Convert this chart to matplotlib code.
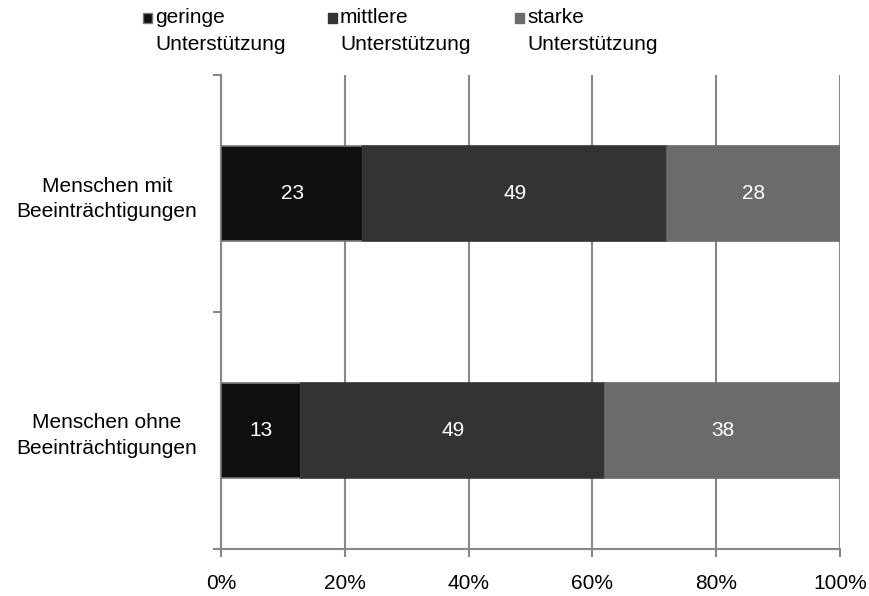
import numpy as np
import matplotlib.pyplot as plt
from matplotlib.patches import Rectangle

plt.rcParams['font.family'] = ['Liberation Sans', 'DejaVu Sans']

groups = ['Menschen ohne\nBeeinträchtigungen', 'Menschen mit\nBeeinträchtigungen']
series = ['geringe\nUnterstützung', 'mittlere\nUnterstützung', 'starke\nUnterstützung']
geringe = [13, 23]
mittlere = [49, 49]
starke = [38, 28]
values = [geringe, mittlere, starke]
colors = ['#0f0f0f', '#333333', '#6b6b6b']
edges = ['#777777', '#333333', '#6b6b6b']

W, H = 870, 596
fig = plt.figure(figsize=(W / 100, H / 100), dpi=100)
ax = fig.add_axes([221 / W, 1 - 549 / H, 619 / W, 474 / H])

y = np.arange(len(groups))
left = np.zeros(len(groups))
for vals, c, ec in zip(values, colors, edges):
    vals = np.array(vals, dtype=float)
    ax.barh(y, vals, left=left, height=0.4, color=c, edgecolor=ec,
            linewidth=1.2, zorder=3)
    for yi, l, v in zip(y, left, vals):
        ax.text(l + v / 2, yi, f'{int(v)}', ha='center', va='center',
                color='white', fontsize=15, zorder=4)
    left += vals

ax.set_xlim(0, 100)
ax.set_ylim(-0.5, 1.5)
ax.set_xticks(np.arange(0, 101, 20))
ax.set_xticklabels([f'{v}%' for v in range(0, 101, 20)], fontsize=15)
ax.set_yticks([-0.5, 0.5, 1.5])
ax.set_yticklabels([])
ax.set_yticks(y, minor=True)
ax.set_yticklabels(groups, minor=True, fontsize=15)
ax.tick_params(axis='y', which='minor', length=0, pad=17)
ax.tick_params(axis='y', which='major', length=6, width=1.5, color='#888888')
ax.tick_params(axis='x', length=6, width=1.5, color='#888888', pad=12)
for lbl in ax.get_yticklabels(minor=True):
    lbl.set_multialignment('center')
    lbl.set_linespacing(1.45)

ax.grid(axis='x', color='#888888', linewidth=1.5, zorder=0)
for side in ['top', 'right']:
    ax.spines[side].set_visible(False)
for side in ['left', 'bottom']:
    ax.spines[side].set_color('#888888')
    ax.spines[side].set_linewidth(1.5)

# legend row above the plot
legend_x = [143, 328, 515]
for x0, c, ec, name in zip(legend_x, colors, edges, series):
    fig.patches.append(Rectangle((x0 / W, 1 - 23 / H), 9 / W, 10 / H,
                                 transform=fig.transFigure, facecolor=c,
                                 edgecolor=ec, linewidth=1))
    fig.text((x0 + 12) / W, 1 - 8 / H, name, ha='left', va='top',
             fontsize=15, linespacing=1.5)

fig.savefig('out.png', dpi=100)
